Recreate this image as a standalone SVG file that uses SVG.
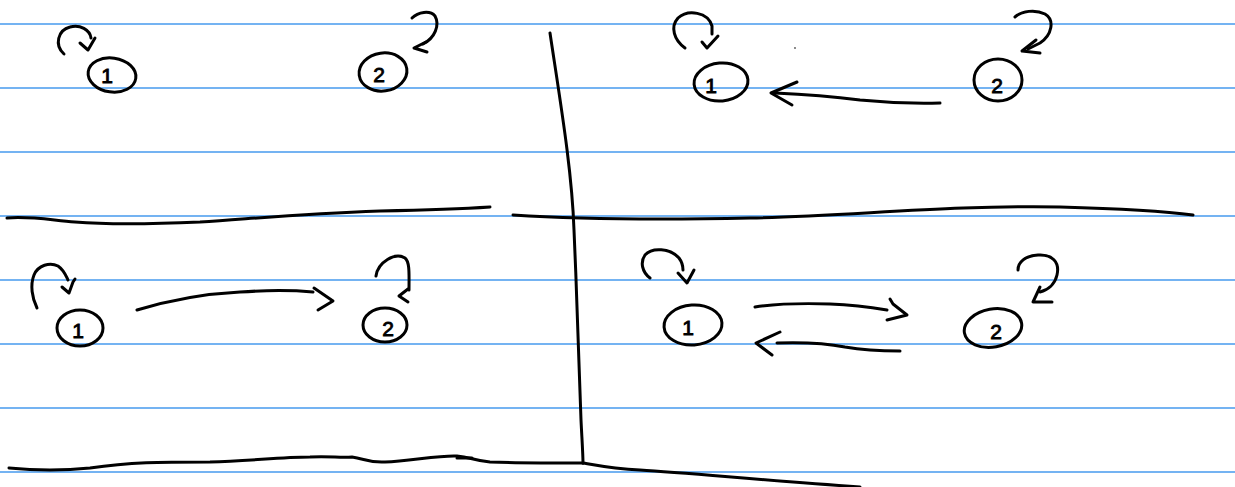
<svg xmlns="http://www.w3.org/2000/svg" width="1235" height="487" viewBox="0 0 1235 487">
<style>
.rule{stroke:#74b3f2;stroke-width:1.8;fill:none}
.ink{stroke:#000;stroke-width:3;fill:none;stroke-linecap:round;stroke-linejoin:round}
.lbl{font-family:"Liberation Sans",Arial,sans-serif;font-size:21px;fill:#000;stroke:#000;stroke-width:0.9;text-anchor:middle}
</style>
<rect width="1235" height="487" fill="#fff"/>
<g id="paper-lines">
<line class="rule" x1="0" y1="24" x2="1235" y2="24"/>
<line class="rule" x1="0" y1="88" x2="1235" y2="88"/>
<line class="rule" x1="0" y1="152" x2="1235" y2="152"/>
<line class="rule" x1="0" y1="216" x2="1235" y2="216"/>
<line class="rule" x1="0" y1="280" x2="1235" y2="280"/>
<line class="rule" x1="0" y1="344" x2="1235" y2="344"/>
<line class="rule" x1="0" y1="408" x2="1235" y2="408"/>
<line class="rule" x1="0" y1="472" x2="1235" y2="472"/>
</g>
<g id="dividers">
<path class="ink" d="M7,218 C30,216 50,220 75,222 C100,224 130,225 200,222 C260,218 300,214 380,211 C430,210 460,209 490,207"/>
<path class="ink" d="M513,215 C560,218 650,220 750,218 C850,216 950,205 1060,207 C1130,209 1170,212 1193,215"/>
<path class="ink" d="M550,33 C560,100 572,170 574,230 C577,300 580,380 581,420 C582,440 583,455 583,463"/>
<path class="ink" d="M9,468 C30,470 60,471 90,468 C130,462 160,462 210,462 C250,461 280,457 310,457 C330,456 340,458 352,457 C365,459 370,463 385,462 C410,461 440,455 457,456 C470,457 475,461 490,462 C520,463 560,463 583,463"/>
<path class="ink" d="M457,458 L472,458"/>
<path class="ink" d="M583,463 C600,466 615,469 640,470 C690,473 760,480 860,487"/>
</g>
<g id="connectors">
<path class="ink" d="M64,54 C54,45 58,30 70,27 C80,24 90,30 91,38"/>
<path class="ink" d="M80,43 L88,50 L95,38"/>
<path class="ink" d="M412,18 C418,12 430,10 435,16 C440,25 435,38 423,44"/>
<path class="ink" d="M426,42 L414,48 L427,52"/>
<path class="ink" d="M685,48 C674,40 670,27 678,18 C688,9 708,12 712,26 L712,34"/>
<path class="ink" d="M702,42 L707,48 L718,36"/>
<path class="ink" d="M1015,17 C1022,11 1035,9 1045,14 C1055,20 1052,35 1040,43 L1028,49"/>
<path class="ink" d="M1036,40 L1022,51 L1040,53"/>
<path class="ink" d="M940,103 C900,104 880,102 860,100 C830,96 800,94 775,93"/>
<path class="ink" d="M797,82 L771,93 L792,105"/>
<path class="ink" d="M37,308 C32,298 30,285 34,275 C38,265 50,262 58,266 C64,270 66,276 68,280"/>
<path class="ink" d="M62,287 L69,293 L73,282 L75,279"/>
<path class="ink" d="M376,276 C378,262 395,252 405,258 C410,262 409,275 409,290"/>
<path class="ink" d="M408,289 L399,296 L408,302"/>
<path class="ink" d="M137,310 C170,300 200,294 240,292 C270,290 290,290 313,292"/>
<path class="ink" d="M314,288 L333,301 L318,310"/>
<path class="ink" d="M650,278 C642,272 640,262 645,255 C652,247 670,248 679,258 C682,262 683,266 683,270"/>
<path class="ink" d="M678,273 L687,283 L694,270"/>
<path class="ink" d="M1018,270 C1018,262 1025,256 1038,255 C1052,254 1060,262 1057,275 C1055,284 1048,290 1040,292"/>
<path class="ink" d="M1040,287 L1033,302 L1052,302"/>
<path class="ink" d="M755,307 C775,304 800,303 830,304 C855,305 875,308 887,310"/>
<path class="ink" d="M890,299 L893,304 L907,315 L887,320"/>
<path class="ink" d="M900,351 C880,351 862,350 845,347 C825,343 808,342 777,343"/>
<path class="ink" d="M780,332 L756,343 L772,355"/>
<circle cx="795" cy="48" r="0.9" fill="#555"/>
</g>
<g id="tl-node1">
<ellipse class="ink" cx="112" cy="75" rx="24" ry="17" transform="rotate(8 112 75)"/>
<text class="lbl" x="107" y="83">1</text>
</g>
<g id="tl-node2">
<ellipse class="ink" cx="383" cy="72" rx="24" ry="19" transform="rotate(-8 383 72)"/>
<text class="lbl" x="379" y="82">2</text>
</g>
<g id="tr-node1">
<ellipse class="ink" cx="721" cy="82" rx="27" ry="19" transform="rotate(-5 721 82)"/>
<text class="lbl" x="711" y="93">1</text>
</g>
<g id="tr-node2">
<ellipse class="ink" cx="998" cy="80" rx="24" ry="21"/>
<text class="lbl" x="997" y="93">2</text>
</g>
<g id="bl-node1">
<ellipse class="ink" cx="80" cy="328" rx="23" ry="18"/>
<text class="lbl" x="78" y="338">1</text>
</g>
<g id="bl-node2">
<ellipse class="ink" cx="385" cy="325" rx="22" ry="17"/>
<text class="lbl" x="388" y="336">2</text>
</g>
<g id="br-node1">
<ellipse class="ink" cx="693" cy="325" rx="29" ry="20" transform="rotate(-4 693 325)"/>
<text class="lbl" x="688" y="335">1</text>
</g>
<g id="br-node2">
<ellipse class="ink" cx="993" cy="328" rx="29" ry="19" transform="rotate(-10 993 328)"/>
<text class="lbl" x="996" y="339">2</text>
</g>
</svg>
